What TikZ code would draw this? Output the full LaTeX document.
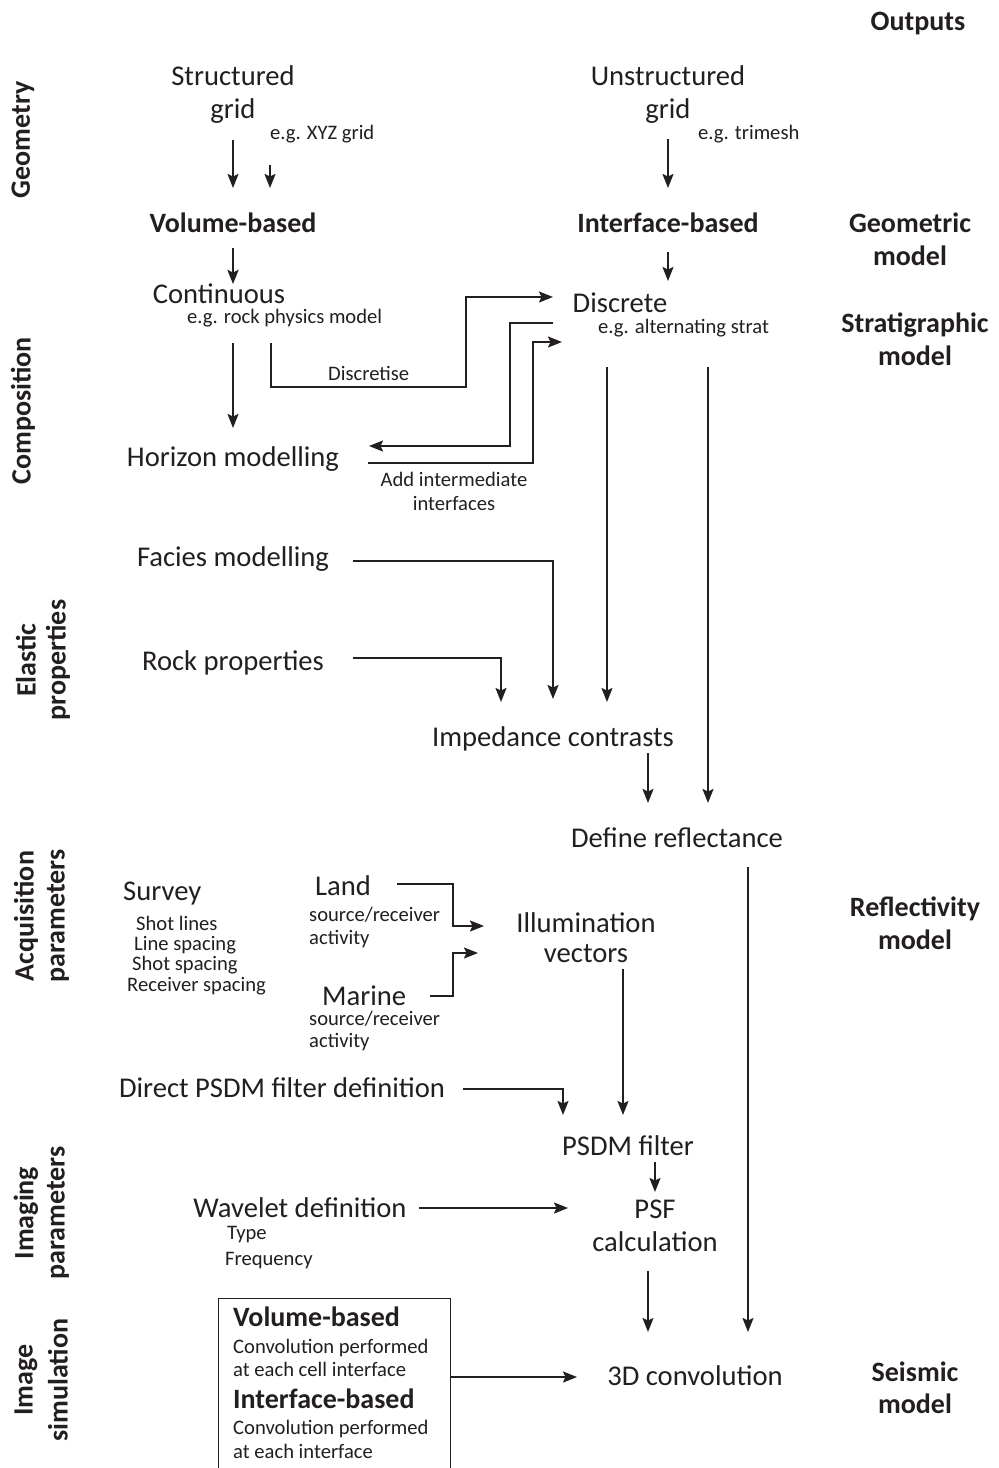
\documentclass[tikz,border=0pt]{standalone}
\usepackage{fontspec}
\setmainfont{Carlito}
\usetikzlibrary{arrows.meta,calc}
\definecolor{ink}{HTML}{231F20}
\newcommand\fmain{\fontsize{28.6}{33}\selectfont}
\newcommand\fsmall{\fontsize{20.6}{24}\selectfont}
\newcommand\fbold{\fontsize{28}{33}\selectfont\bfseries}
\begin{document}
\begin{tikzpicture}[x=1pt,y=-1pt,
  every node/.style={inner sep=0pt,text=ink},
  tm/.style={font=\fmain,anchor=base},
  tmw/.style={font=\fmain,anchor=base west},
  ts/.style={font=\fsmall,anchor=base},
  tsw/.style={font=\fsmall,anchor=base west},
  tb/.style={font=\fbold,anchor=base},
  tbw/.style={font=\fbold,anchor=base west},
  side/.style={font=\fbold,rotate=90,anchor=center},
  arr/.style={draw=ink,line width=1.8pt,-{Stealth[length=14pt,width=11pt,inset=2.5pt]}},
  arrthick/.style={arr,line width=2.8pt}]
\useasboundingbox (0,0) rectangle (999,1468);
\fill[white] (0,0) rectangle (999,1468);

% side labels
\node[side] (geo) at (23,140) {Geometry};
\node[side] (comp) at (23,411) {Composition};
\node[side] (el1) at (26,660) {Elastic};
\node[side] (el2) at (58,660) {properties};
\node[side] (ac1) at (26,916) {Acquisition};
\node[side] (ac2) at (58,916) {parameters};
\node[side] (im1) at (26,1213) {Imaging};
\node[side] (im2) at (58,1213) {parameters};
\node[side] (is1) at (26,1380) {Image};
\node[side] (is2) at (58,1380) {simulation};

% outputs column
\node[tb] (out) at (918,30) {Outputs};
\node[tb] (gm1) at (910,232) {Geometric};
\node[tb] (gm2) at (910,265) {model};
\node[tb] (sm1) at (915,332) {Stratigraphic};
\node[tb] (sm2) at (915,365) {model};
\node[tb] (rm1) at (915,916) {Reflectivity};
\node[tb] (rm2) at (915,949) {model};
\node[tb] (se1) at (915,1381) {Seismic};
\node[tb] (se2) at (915,1413) {model};

% geometry
\node[tm] (sg1) at (233,85) {Structured};
\node[tm] (sg2) at (233,118) {grid};
\node[tsw] (sgx) at (270,139) {e.g. XYZ grid};
\node[tm] (ug1) at (668,85) {Unstructured};
\node[tm] (ug2) at (668,118) {grid};
\node[tsw] (ugx) at (698,139) {e.g. trimesh};
\node[tb] (vb) at (233,232) {Volume-based};
\node[tb] (ib) at (668,232) {Interface-based};

% composition
\node[tm] (cont) at (219,303) {Continuous};
\node[tsw] (contx) at (187,323) {e.g. rock physics model};
\node[tm] (disc) at (620,312) {Discrete};
\node[tsw] (discx) at (598,333) {e.g. alternating strat};
\node[tsw] (dlab) at (328,380) {Discretise};
\node[tm] (hm) at (233,466) {Horizon modelling};
\node[ts] (add1) at (454,486) {Add intermediate};
\node[ts] (add2) at (454,510) {interfaces};

% elastic
\node[tm] (fm) at (233,566) {Facies modelling};
\node[tm] (rp) at (233,670) {Rock properties};
\node[tm] (ic) at (553,746) {Impedance contrasts};
\node[tm] (dr) at (677,847) {Define reflectance};

% acquisition
\node[tmw] (sv) at (123,900) {Survey};
\node[tsw] (sl1) at (136,930) {Shot lines};
\node[tsw] (sl2) at (134,950) {Line spacing};
\node[tsw] (sl3) at (132,970) {Shot spacing};
\node[tsw] (sl4) at (127,991) {Receiver spacing};
\node[tmw] (land) at (315,895) {Land};
\node[tsw] (lx1) at (309,921) {source/receiver};
\node[tsw] (lx2) at (309,944) {activity};
\node[tmw] (mar) at (322,1005) {Marine};
\node[tsw] (mx1) at (309,1025) {source/receiver};
\node[tsw] (mx2) at (309,1047) {activity};
\node[tm] (iv1) at (586,932) {Illumination};
\node[tm] (iv2) at (586,962) {vectors};

% imaging
\node[tm] (dp) at (282,1097) {Direct PSDM filter definition};
\node[tm] (pf) at (628,1155) {PSDM filter};
\node[tm] (psf1) at (655,1218) {PSF};
\node[tm] (psf2) at (655,1251) {calculation};
\node[tm] (wd) at (300,1217) {Wavelet definition};
\node[tsw] (ty) at (227,1239) {Type};
\node[tsw] (fq) at (225,1265) {Frequency};

% image simulation
\node[draw=ink,line width=1.4pt,anchor=north west,minimum width=232pt,minimum height=220pt] (bx) at (218,1298) {};
\node[tbw] (bx1) at (233,1326) {Volume-based};
\node[tsw] (bx2) at (233,1353) {Convolution performed};
\node[tsw] (bx3) at (233,1376) {at each cell interface};
\node[tbw] (bx4) at (233,1408) {Interface-based};
\node[tsw] (bx5) at (233,1434) {Convolution performed};
\node[tsw] (bx6) at (233,1458) {at each interface};
\node[tm] (cv) at (695,1385) {3D convolution};

% connectors
\draw[arr] ($(sg2.base)+(0,22)$) -- ($(vb.base)+(0,-44)$);
\draw[arr] ($(sgx.base west)+(0,26)$) -- ($(vb.base)+(37,-44)$);
\draw[arr] ($(ug2.base)+(0,21)$) -- ($(ib.base)+(0,-44)$);
\draw[arrthick] ($(vb.base)+(0,16)$) -- ($(cont.base)+(14,-19)$);
\draw[arr] ($(ib.base)+(0,20)$) -- ($(disc.base)+(48,-31)$);
\draw[arr] ($(cont.base)+(14,40)$) -- ($(hm.base)+(0,-38)$);
\draw[arr] ($(cont.base)+(52,40)$) |- ($(disc.base)+(-154,75)$) |- ($(disc.base)+(-67,-15)$);
\draw[arr] ($(disc.base)+(-67,11)$) -| ($(hm.base)+(277,-20)$) -- ($(hm.base)+(136,-20)$);
\draw[arr] ($(hm.base)+(135,-3)$) -| ($(disc.base)+(-87,30)$) -- ($(disc.base)+(-58,30)$);
\draw[arr] ($(disc.base)+(-13,55)$) -- ($(ic.base)+(54,-44)$);
\draw[arr] ($(discx.base west)+(110,34)$) -- ($(dr.base)+(31,-44)$);
\draw[arr] ($(fm.base)+(120,-5)$) -| ($(ic.base)+(0,-47)$);
\draw[arr] ($(rp.base)+(120,-12)$) -| ($(ic.base)+(-52,-44)$);
\draw[arr] ($(ic.base)+(95,7)$) -- ($(dr.base)+(-29,-44)$);
\draw[arr] ($(dr.base)+(71,20)$) -- ($(cv.base)+(53,-53)$);
\draw[arr] ($(land.base west)+(82,-11)$) -| ($(iv1.base)+(-133,-6)$) -- ($(iv1.base)+(-102,-6)$);
\draw[arr] ($(mar.base west)+(108,-9)$) -| ($(iv2.base)+(-133,-9)$) -- ($(iv2.base)+(-108,-9)$);
\draw[arr] ($(iv2.base)+(37,7)$) -- ($(pf.base)+(-5,-40)$);
\draw[arr] ($(dp.base)+(181,-8)$) -| ($(pf.base)+(-65,-40)$);
\draw[arr] ($(pf.base)+(27,7)$) -- ($(psf1.base)+(0,-26)$);
\draw[arr] ($(wd.base)+(119,-9)$) -- ($(psf1.base)+(-87,-10)$);
\draw[arr] ($(psf2.base)+(-7,20)$) -- ($(cv.base)+(-47,-53)$);
\draw[arr] ($(bx.north east)+(0,79)$) -- ($(cv.base)+(-118,-8)$);
\end{tikzpicture}
\end{document}
